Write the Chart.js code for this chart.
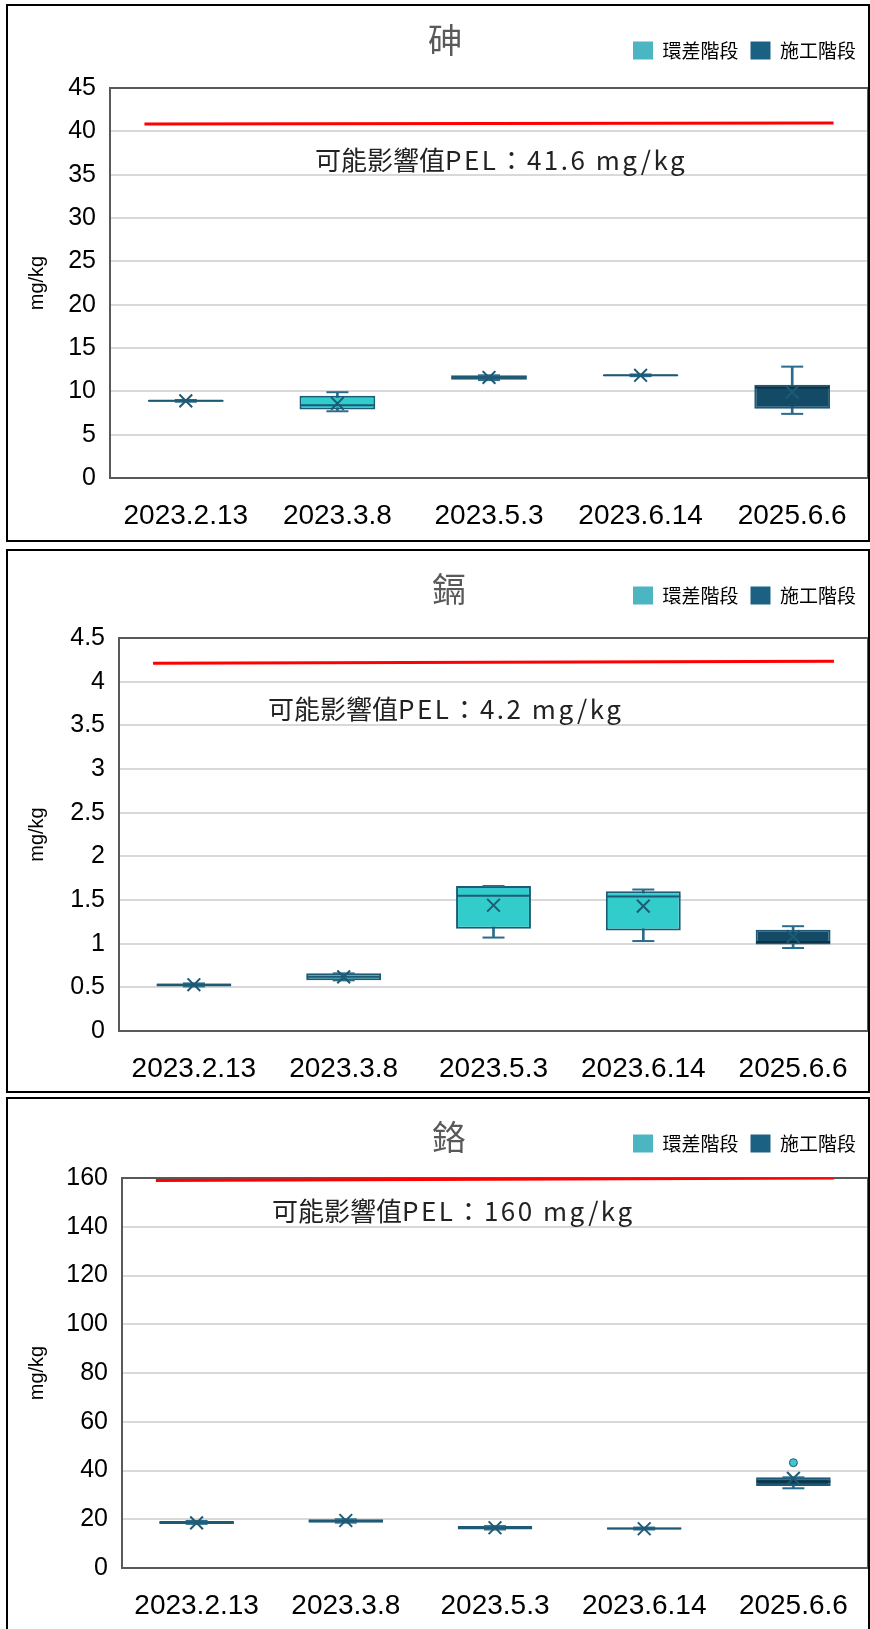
<!DOCTYPE html>
<html>
<head>
<meta charset="utf-8">
<script src="https://cdn.jsdelivr.net/npm/chart.js@4"></script>
<style>
  body { margin: 0; background: #fff; }
  #page { position: relative; width: 870px; height: 1629px; overflow: hidden; }
  .panel { position: absolute; left: 6px; width: 864px; border: 2px solid #000; box-sizing: border-box; }
  .panel canvas { position: absolute; left: 0; top: 0; }
  .title { position: absolute; font-family: "Noto Sans CJK TC"; font-size: 34px; color: #595959;
           transform: translate(-50%, -50%); white-space: nowrap; }
  .pel { position: absolute; font-family: "Noto Sans CJK TC"; font-size: 26px; color: #222;
         transform: translateY(-50%); white-space: nowrap; }
  .pel span { letter-spacing: 2.5px; }
</style>
</head>
<body>
<div id="page">
  <div class="panel" style="top:4px;height:538px">
    <canvas id="chartAs" width="860" height="534"></canvas>
    <div class="title" style="left:437px;top:32px">砷</div>
    <div class="pel" style="left:307px;top:152px">可能影響值<span>PEL：41.6 mg/kg</span></div>
  </div>
  <div class="panel" style="top:549px;height:544px">
    <canvas id="chartCd" width="860" height="540"></canvas>
    <div class="title" style="left:441px;top:36px">鎘</div>
    <div class="pel" style="left:260px;top:156px">可能影響值<span>PEL：4.2 mg/kg</span></div>
  </div>
  <div class="panel" style="top:1097px;height:540px">
    <canvas id="chartCr" width="860" height="530"></canvas>
    <div class="title" style="left:441px;top:36px">鉻</div>
    <div class="pel" style="left:264px;top:110px">可能影響值<span>PEL：160 mg/kg</span></div>
  </div>
</div>

<script>
// sampling dates and phase of each date
const categories = ["2023.2.13", "2023.3.8", "2023.5.3", "2023.6.14", "2025.6.6"];
const phases = ["環差階段", "環差階段", "環差階段", "環差階段", "施工階段"];

// 砷 (mg/kg) box plot stats
const asMin  = [8.8, 7.7, 11.3, 11.75, 7.4];
const asQ1   = [8.8, 7.9, 11.35, 11.75, 8.0];
const asMed  = [8.9, 8.4, 11.6, 11.85, 10.45];
const asQ3   = [9.0, 9.5, 11.85, 11.95, 10.75];
const asMax  = [9.0, 9.9, 11.85, 11.95, 12.85];
const asMean = [8.9, 8.6, 11.6, 11.85, 9.9];
const asOut  = [null, null, null, null, null];
const asPel  = [40.85, 40.95];

// 鎘 (mg/kg)
const cdMin  = [0.51, 0.58, 1.07, 1.03, 0.95];
const cdQ1   = [0.51, 0.58, 1.17, 1.15, 0.99];
const cdMed  = [0.53, 0.62, 1.55, 1.54, 1.02];
const cdQ3   = [0.545, 0.66, 1.66, 1.6, 1.16];
const cdMax  = [0.545, 0.66, 1.66, 1.62, 1.2];
const cdMean = [0.53, 0.62, 1.44, 1.43, 1.08];
const cdOut  = [null, null, null, null, null];
const cdPel  = [4.21, 4.235];

// 鉻 (mg/kg)
const crMin  = [18.1, 18.6, 15.8, 15.8, 32.7];
const crQ1   = [18.1, 18.6, 15.8, 15.8, 33.6];
const crMed  = [18.7, 19.3, 16.5, 16.2, 35.5];
const crQ3   = [19.3, 20.0, 17.2, 16.6, 37.2];
const crMax  = [19.3, 20.0, 17.2, 16.6, 37.2];
const crMean = [18.5, 19.5, 16.5, 16.1, 36.8];
const crOut  = [null, null, null, null, 43.2];
const crPel  = [159.0, 160.0];

const phaseFill = { "環差階段": "#33CCCC", "施工階段": "#134B66" };
const phaseMedian = { "環差階段": "#1E5A75", "施工階段": "#0B3347" };
const legendColors = { "環差階段": "#4BB5C1", "施工階段": "#1B6184" };
const whiskerColor = "#2B6B8B";
const boxLine = "#1E5A75";

const plotFrame = {
  id: "plotFrame",
  beforeDatasetsDraw(chart) {
    const { ctx, chartArea: a } = chart;
    ctx.save();
    ctx.strokeStyle = "#595959";
    ctx.lineWidth = 2;
    ctx.strokeRect(a.left, a.top, a.right - a.left, a.bottom - a.top);
    ctx.restore();
  }
};

function legendHeight(h) {
  return {
    id: "legendHeight",
    afterInit(chart) {
      const fit = chart.legend.fit;
      chart.legend.fit = function () { fit.call(this); this.height = h; };
    }
  };
}

function boxChart(id, s) {
  const ctx = document.getElementById(id).getContext("2d");
  const fills = phases.map(p => phaseFill[p]);
  const medCols = phases.map(p => phaseMedian[p]);
  const pointSet = (data, extra) => Object.assign({
    type: "line", data: data, showLine: false, xAxisID: "x"
  }, extra);

  return new Chart(ctx, {
    type: "bar",
    data: {
      labels: categories,
      datasets: [
        {
          label: "whisker", data: categories.map((c, i) => [s.min[i], s.max[i]]),
          backgroundColor: whiskerColor, barThickness: 2, grouped: false, order: 6
        },
        {
          label: "box", data: categories.map((c, i) => [s.q1[i], s.q3[i]]),
          backgroundColor: fills, borderColor: boxLine, borderWidth: 2, borderSkipped: false,
          barPercentage: 0.5, categoryPercentage: 1, grouped: false, order: 5
        },
        pointSet(s.min, { label: "min", pointStyle: "line", pointRadius: 11, pointBorderWidth: 2,
          pointBorderColor: whiskerColor, order: 4 }),
        pointSet(s.max, { label: "max", pointStyle: "line", pointRadius: 11, pointBorderWidth: 2,
          pointBorderColor: whiskerColor, order: 4 }),
        pointSet(s.med, { label: "median", pointStyle: "line", pointRadius: 37, pointBorderWidth: 2,
          pointBorderColor: medCols, order: 3 }),
        pointSet(s.mean, { label: "mean", pointStyle: "crossRot", pointRadius: 9, pointBorderWidth: 2,
          pointBorderColor: boxLine, order: 2 }),
        pointSet(s.out, { label: "outlier", pointStyle: "circle", pointRadius: 4, pointBorderWidth: 1,
          pointBackgroundColor: "#3CC8D0", pointBorderColor: boxLine, order: 1 }),
        {
          type: "line", label: "PEL", xAxisID: "xp",
          data: [{ x: 0, y: s.pel[0] }, { x: 1, y: s.pel[1] }],
          borderColor: "#FF0000", borderWidth: 3, pointRadius: 0, order: 0
        }
      ]
    },
    options: {
      responsive: false,
      animation: false,
      events: [],
      layout: { autoPadding: false, padding: { top: 23, left: 0, right: 0, bottom: 0 } },
      plugins: {
        title: { display: false },
        tooltip: { enabled: false },
        legend: {
          position: "top",
          align: "end",
          labels: {
            boxWidth: 20, boxHeight: 18, padding: 12, color: "#333",
            font: { family: "'Noto Sans CJK TC'", size: 19 },
            generateLabels: () => ["環差階段", "施工階段"].map((t, i) => ({
              text: t, fillStyle: legendColors[t], strokeStyle: legendColors[t],
              lineWidth: 0, hidden: false, datasetIndex: i
            }))
          }
        }
      },
      scales: {
        x: {
          type: "category",
          offset: true,
          grid: { display: false, drawTicks: false },
          border: { display: false },
          ticks: { color: "#000", padding: 21, font: { family: "'Liberation Sans'", size: 28 } },
          afterFit: sc => { sc.height = s.xH; sc.paddingLeft = 0; sc.paddingRight = 0; }
        },
        xp: { type: "linear", axis: "x", min: 0, max: 1, display: false },
        y: {
          min: 0, max: s.yMax,
          grid: { color: "#d9d9d9", lineWidth: 2, drawTicks: false },
          border: { display: false },
          ticks: {
            stepSize: s.yStep, color: "#000", padding: 14,
            font: { family: "'Liberation Sans'", size: 25 },
            callback: v => String(+v.toFixed(2))
          },
          title: {
            display: true, text: "mg/kg", color: "#000",
            font: { family: "'Liberation Sans'", size: 20 }, padding: { top: 17, bottom: 0 }
          },
          afterFit: sc => { sc.width = s.yW; }
        }
      }
    },
    plugins: [plotFrame, legendHeight(s.top - 23)]
  });
}

boxChart("chartAs", { min: asMin, q1: asQ1, med: asMed, q3: asQ3, max: asMax, mean: asMean, out: asOut,
  pel: asPel, yMax: 45, yStep: 5, yW: 102, top: 82, xH: 62 });
boxChart("chartCd", { min: cdMin, q1: cdQ1, med: cdMed, q3: cdQ3, max: cdMax, mean: cdMean, out: cdOut,
  pel: cdPel, yMax: 4.5, yStep: 0.5, yW: 111, top: 87, xH: 60 });
boxChart("chartCr", { min: crMin, q1: crQ1, med: crMed, q3: crQ3, max: crMax, mean: crMean, out: crOut,
  pel: crPel, yMax: 160, yStep: 20, yW: 114, top: 79, xH: 61 });
</script>
</body>
</html>
